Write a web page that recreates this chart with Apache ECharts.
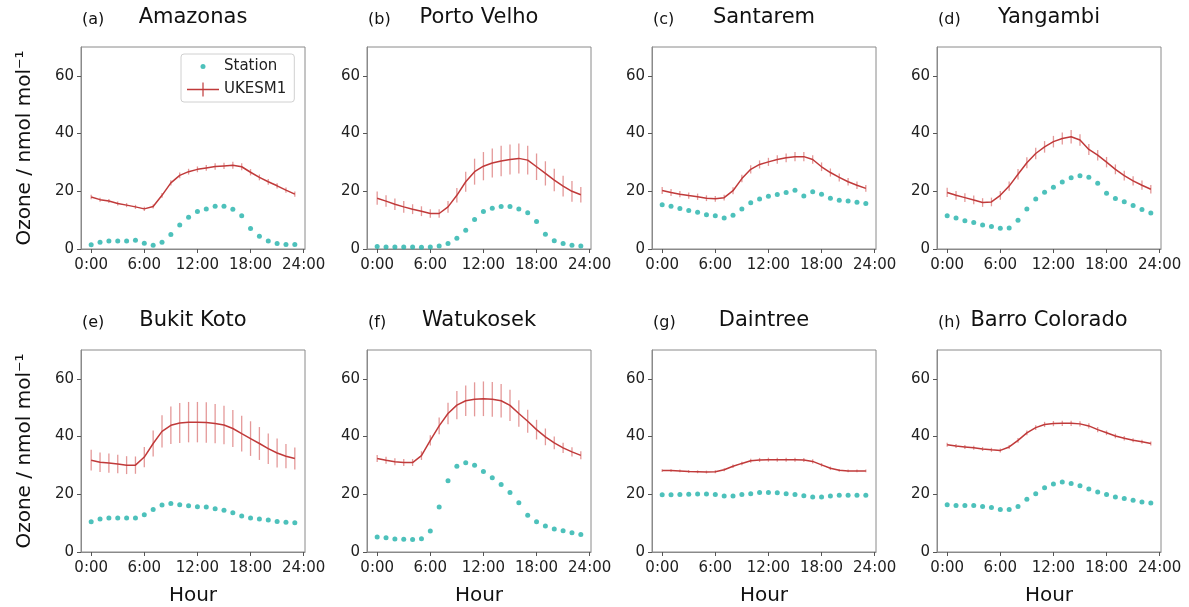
<!DOCTYPE html>
<html>
<head>
<meta charset="utf-8">
<script src="https://cdn.jsdelivr.net/npm/echarts@6/dist/echarts.min.js"></script>
<style>
  html, body { margin: 0; padding: 0; background: #fff; }
  #chart { width: 1189px; height: 607px; }
</style>
</head>
<body>
<div id="chart"></div>
<script>
// hours of the day
var hours = [0,1,2,3,4,5,6,7,8,9,10,11,12,13,14,15,16,17,18,19,20,21,22,23];
var hourTicks = [0, 6, 12, 18, 24];
var ozoneTicks = [0, 20, 40, 60];

// station observations (nmol/mol)
var obsAmazonas = [1.5,2.3,2.8,2.8,2.8,3.0,2.0,1.3,2.3,5.0,8.3,11.0,13.0,13.9,14.8,14.8,13.8,11.5,7.1,4.4,2.8,1.9,1.6,1.6];
var obsPortoVelho = [0.9,0.7,0.7,0.7,0.7,0.6,0.7,1.0,1.9,3.7,6.5,10.2,13.0,14.1,14.7,14.7,13.9,12.6,9.5,5.1,2.9,1.9,1.3,1.0];
var obsSantarem = [15.3,14.8,14.0,13.3,12.7,11.9,11.5,10.7,11.7,13.9,16.0,17.3,18.3,18.9,19.6,20.4,18.4,19.8,19.0,17.6,16.9,16.6,16.2,15.8];
var obsYangambi = [11.5,10.7,9.8,9.2,8.3,7.8,7.2,7.3,10.0,13.9,17.3,19.7,21.4,23.2,24.7,25.4,24.9,22.8,19.3,17.5,16.4,15.1,13.7,12.5];
var obsBukitKoto = [10.5,11.4,11.8,11.8,11.8,11.8,12.9,14.7,16.3,16.8,16.4,16.0,15.7,15.6,15.0,14.5,13.6,12.5,11.8,11.4,11.1,10.6,10.3,10.1];
var obsWatukosek = [5.2,4.9,4.5,4.4,4.3,4.6,7.3,15.6,24.7,29.7,30.9,30.1,27.9,25.7,23.4,20.6,17.1,12.7,10.5,9.0,8.0,7.4,6.7,6.1];
var obsDaintree = [19.8,19.8,19.9,20.0,20.1,20.1,19.9,19.4,19.4,19.9,20.2,20.6,20.6,20.5,20.2,19.9,19.5,19.1,19.1,19.4,19.7,19.7,19.7,19.7];
var obsBarro = [16.4,16.1,16.1,16.1,15.8,15.4,14.7,14.7,15.8,18.3,20.2,22.3,23.6,24.3,23.7,23.0,21.8,20.8,19.9,19.1,18.5,17.9,17.3,17.0];

// UKESM1 model means
var modAmazonas = [18.0,17.1,16.6,15.8,15.2,14.6,13.9,14.7,18.6,22.9,25.5,26.8,27.6,28.1,28.6,28.8,29.0,28.5,26.6,24.8,23.3,21.9,20.4,19.0];
var modPortoVelho = [17.6,16.6,15.5,14.6,13.8,13.1,12.3,12.3,14.6,18.6,23.3,26.8,28.7,29.8,30.5,31.0,31.4,30.8,28.5,26.2,23.9,21.8,20.0,18.8];
var modSantarem = [20.3,19.6,19.0,18.5,18.1,17.6,17.4,17.8,20.2,24.4,27.6,29.3,30.2,31.0,31.6,32.0,32.0,31.0,28.5,26.5,24.8,23.3,22.1,21.0];
var modYangambi = [19.6,18.6,17.8,17.0,16.1,16.3,18.6,21.8,25.9,29.9,33.1,35.4,37.2,38.3,38.9,37.8,34.5,32.5,30.1,27.6,25.4,23.6,22.1,20.7];
var modBukitKoto = [31.8,31.1,30.8,30.5,30.1,30.1,32.9,37.6,41.8,43.9,44.7,45.0,45.0,44.9,44.5,44.0,42.8,41.0,39.3,37.6,35.8,34.3,33.2,32.4];
var modWatukosek = [32.4,31.8,31.3,31.0,31.0,33.4,38.7,43.7,48.0,50.9,52.4,52.9,53.1,52.9,52.4,50.8,48.0,45.3,42.4,39.9,37.8,36.1,34.7,33.5];
var modDaintree = [28.2,28.2,28.1,27.9,27.8,27.7,27.8,28.5,29.7,30.7,31.6,31.9,32.0,32.0,32.0,32.0,31.9,31.4,30.2,29.0,28.3,28.1,28.1,28.1];
var modBarro = [37.2,36.7,36.4,36.1,35.7,35.4,35.2,36.4,38.7,41.3,43.1,44.2,44.5,44.6,44.6,44.4,43.7,42.4,41.3,40.2,39.4,38.7,38.2,37.6];

// UKESM1 error bar half-widths
var errAmazonas = [0.8,0.7,0.7,0.7,0.7,0.7,0.7,0.7,0.8,0.9,1.0,1.0,1.0,1.0,1.1,1.1,1.2,1.2,1.1,1.0,1.0,0.9,0.9,0.9];
var errPortoVelho = [2.3,2.0,2.0,2.0,1.7,1.7,1.5,1.5,2.0,2.5,3.5,4.5,4.9,5.0,5.3,5.2,5.2,5.0,4.6,4.2,3.9,3.6,3.6,2.7];
var errSantarem = [1.2,1.2,1.1,1.1,1.1,1.0,1.0,1.0,1.2,1.3,1.4,1.4,1.4,1.5,1.5,1.6,1.6,1.5,1.5,1.4,1.4,1.3,1.3,1.2];
var errYangambi = [1.6,1.5,1.5,1.5,1.5,1.5,1.5,1.6,1.8,1.9,2.0,2.0,2.0,2.1,2.3,2.0,1.9,1.8,1.8,1.7,1.7,1.6,1.6,1.5];
var errBukitKoto = [3.6,3.4,3.3,3.2,3.1,3.0,3.5,4.5,5.6,6.5,6.9,7.0,7.0,7.0,6.8,6.7,6.4,6.2,6.0,5.7,5.3,5.0,4.2,3.8];
var errWatukosek = [1.2,1.2,1.2,1.2,1.2,1.5,1.8,2.9,3.7,4.9,5.3,5.9,6.0,6.0,5.8,5.4,4.6,4.0,3.4,2.9,2.2,1.8,1.6,1.4];
var errDaintree = [0.5,0.5,0.5,0.5,0.5,0.5,0.5,0.5,0.6,0.6,0.7,0.7,0.7,0.7,0.7,0.7,0.7,0.7,0.6,0.6,0.5,0.5,0.5,0.5];
var errBarro = [0.7,0.7,0.7,0.7,0.7,0.7,0.7,0.7,0.8,0.8,0.8,0.9,0.9,0.9,0.9,0.9,0.9,0.9,0.8,0.8,0.8,0.7,0.7,0.7];

var sites = [
  {tag: '(a)', name: 'Amazonas', obs: obsAmazonas, mod: modAmazonas, err: errAmazonas},
  {tag: '(b)', name: 'Porto Velho', obs: obsPortoVelho, mod: modPortoVelho, err: errPortoVelho},
  {tag: '(c)', name: 'Santarem', obs: obsSantarem, mod: modSantarem, err: errSantarem},
  {tag: '(d)', name: 'Yangambi', obs: obsYangambi, mod: modYangambi, err: errYangambi},
  {tag: '(e)', name: 'Bukit Koto', obs: obsBukitKoto, mod: modBukitKoto, err: errBukitKoto},
  {tag: '(f)', name: 'Watukosek', obs: obsWatukosek, mod: modWatukosek, err: errWatukosek},
  {tag: '(g)', name: 'Daintree', obs: obsDaintree, mod: modDaintree, err: errDaintree},
  {tag: '(h)', name: 'Barro Colorado', obs: obsBarro, mod: modBarro, err: errBarro}
];

var font = 'DejaVu Sans';
var colLeft = [81, 367, 652, 937];
var rowTop = [47, 350];
var boxW = 224, boxH = 202;
var lineColor = '#c03a3a';
var barColor = 'rgba(205,70,70,0.55)';
var dotColor = '#20b2aa';
var frameColor = '#8a8a8a';

var grids = [], xAxes = [], yAxes = [], series = [], titles = [];

sites.forEach(function (s, i) {
  var col = i % 4, row = Math.floor(i / 4);
  var left = colLeft[col], top = rowTop[row];
  grids.push({left: left, top: top, width: boxW, height: boxH, show: true,
    borderColor: frameColor, borderWidth: 1, backgroundColor: 'transparent'});

  xAxes.push({
    gridIndex: i, type: 'value', min: -1.15, max: 24.15,
    name: row === 1 ? 'Hour' : '', nameLocation: 'middle', nameGap: 34,
    nameTextStyle: {fontFamily: font, fontSize: 20, color: '#111'},
    axisLine: {show: true, onZero: false, lineStyle: {color: frameColor}},
    axisTick: {show: true, length: 4, customValues: hourTicks, lineStyle: {color: '#555'}},
    axisLabel: {customValues: hourTicks, fontFamily: font, fontSize: 15, color: '#222', margin: 9,
      formatter: function (v) { return v + ':00'; }},
    splitLine: {show: false}
  });

  yAxes.push({
    gridIndex: i, type: 'value', min: 0, max: 70,
    name: col === 0 ? 'Ozone / nmol mol\u207B\u00B9' : '', nameLocation: 'middle', nameRotate: 90, nameGap: 46,
    nameTextStyle: {fontFamily: font, fontSize: 20, color: '#111'},
    axisLine: {show: true, onZero: false, lineStyle: {color: frameColor}},
    axisTick: {show: true, length: 4, customValues: ozoneTicks, lineStyle: {color: '#555'}},
    axisLabel: {customValues: ozoneTicks, fontFamily: font, fontSize: 15, color: '#222', margin: 7},
    splitLine: {show: false}
  });

  var center = left + boxW / 2;
  titles.push({text: s.name, left: center, top: row === 0 ? 7 : 310, textAlign: 'center', padding: 0,
    textStyle: {fontFamily: font, fontSize: 21, fontWeight: 'normal', color: '#111'}});
  titles.push({text: s.tag, left: left + 1, top: row === 0 ? 12 : 315, padding: 0,
    textStyle: {fontFamily: font, fontSize: 16, fontWeight: 'normal', color: '#111'}});

  series.push({
    name: 'err', type: 'custom', xAxisIndex: i, yAxisIndex: i,
    data: hours.map(function (h, k) { return [h, s.mod[k] - s.err[k], s.mod[k] + s.err[k]]; }),
    encode: {x: 0, y: [1, 2]},
    renderItem: function (params, api) {
      var x = api.value(0);
      var lo = api.coord([x, api.value(1)]);
      var hi = api.coord([x, api.value(2)]);
      return {type: 'line', shape: {x1: lo[0], y1: lo[1], x2: hi[0], y2: hi[1]},
        style: {stroke: barColor, lineWidth: 1.3}};
    },
    z: 2
  });
  series.push({
    name: 'UKESM1', type: 'line', xAxisIndex: i, yAxisIndex: i,
    data: hours.map(function (h, k) { return [h, s.mod[k]]; }),
    symbol: 'none', lineStyle: {color: lineColor, width: 1.5}, itemStyle: {color: lineColor}, z: 3
  });
  series.push({
    name: 'Station', type: 'scatter', xAxisIndex: i, yAxisIndex: i,
    data: hours.map(function (h, k) { return [h, s.obs[k]]; }),
    symbolSize: 5, itemStyle: {color: dotColor}, z: 4
  });
});

var chart = echarts.init(document.getElementById('chart'));
chart.setOption({
  animation: false,
  backgroundColor: '#fff',
  title: titles,
  grid: grids,
  xAxis: xAxes,
  yAxis: yAxes,
  legend: {
    left: 181, top: 54, orient: 'vertical',
    itemWidth: 32, itemHeight: 14, itemGap: 8,
    padding: [5, 8, 5, 6],
    borderColor: '#d0d0d0', borderWidth: 1, borderRadius: 3,
    textStyle: {fontFamily: font, fontSize: 15, color: '#222'},
    data: [
      {name: 'Station', icon: 'path://M0,0M32,14M13.5,7a2.5,2.5,0,1,0,5,0a2.5,2.5,0,1,0,-5,0z'},
      {name: 'UKESM1', icon: 'path://M0,0M32,14M0,6.3h32v1.4h-32zM15.4,0h1.2v14h-1.2z'}
    ]
  },
  series: series
});
</script>
</body>
</html>
